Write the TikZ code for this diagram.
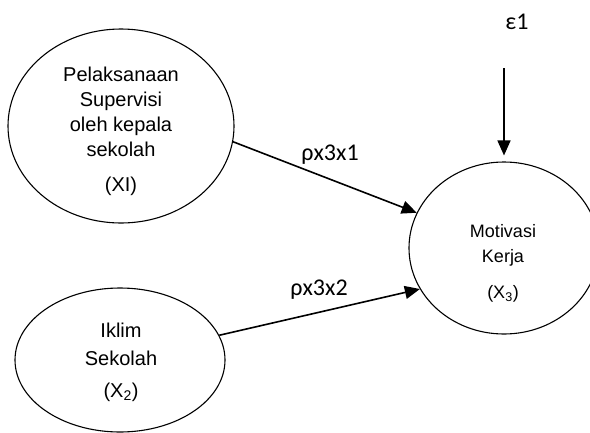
\documentclass[tikz,border=0pt]{standalone}
\usepackage{fontspec}
\setmainfont{Liberation Sans}
\newfontfamily\calib{Carlito}
\usetikzlibrary{shapes.geometric,arrows.meta}

\begin{document}
\begin{tikzpicture}[
    x=1pt, y=-1pt,
    var/.style={ellipse, draw, line width=1.1pt, inner sep=0pt},
    vartext/.style={align=center, font=\fontsize{20}{25}\selectfont},
    coef/.style={font=\calib\fontsize{24}{26}\selectfont},
    arrow/.style={-{Triangle[length=15pt,width=13pt]}, line width=1.6pt}
]
\useasboundingbox (0,0) rectangle (590,432);

% Variables
\node[var, minimum width=226pt, minimum height=194pt] (sup) at (121,126) {};
\node[var, minimum width=210pt, minimum height=144pt] (iklim) at (120,360) {};
\node[var, minimum width=190pt, minimum height=172pt] (mot) at (504,248) {};

% Variable names
\node[vartext] (suptext) at (121,131) {Pelaksanaan\\Supervisi\\oleh kepala\\sekolah\\[10pt](XI)};
\node[vartext] (iklimtext) at (121,362) {Iklim\\[3pt]Sekolah\\[7pt](X\textsubscript{2})};
\node[vartext, font=\fontsize{18}{25}\selectfont] (mottext) at (503,263) {Motivasi\\Kerja\\[11pt](X\textsubscript{3})};

% Path coefficients
\node[coef] (p31) at (330,155) {ρx3x1};
\node[coef] (p32) at (319,290) {ρx3x2};
\node[coef] (eps) at (517,22) {ε1};
\coordinate (epsend) at (504,68);

% Connections
\draw[arrow] (sup.-8) -- (mot.158);
\draw[arrow] (iklim.14) -- (mot.206);
\draw[arrow] (epsend) -- ([yshift=6pt]mot.north);

\end{tikzpicture}
\end{document}
